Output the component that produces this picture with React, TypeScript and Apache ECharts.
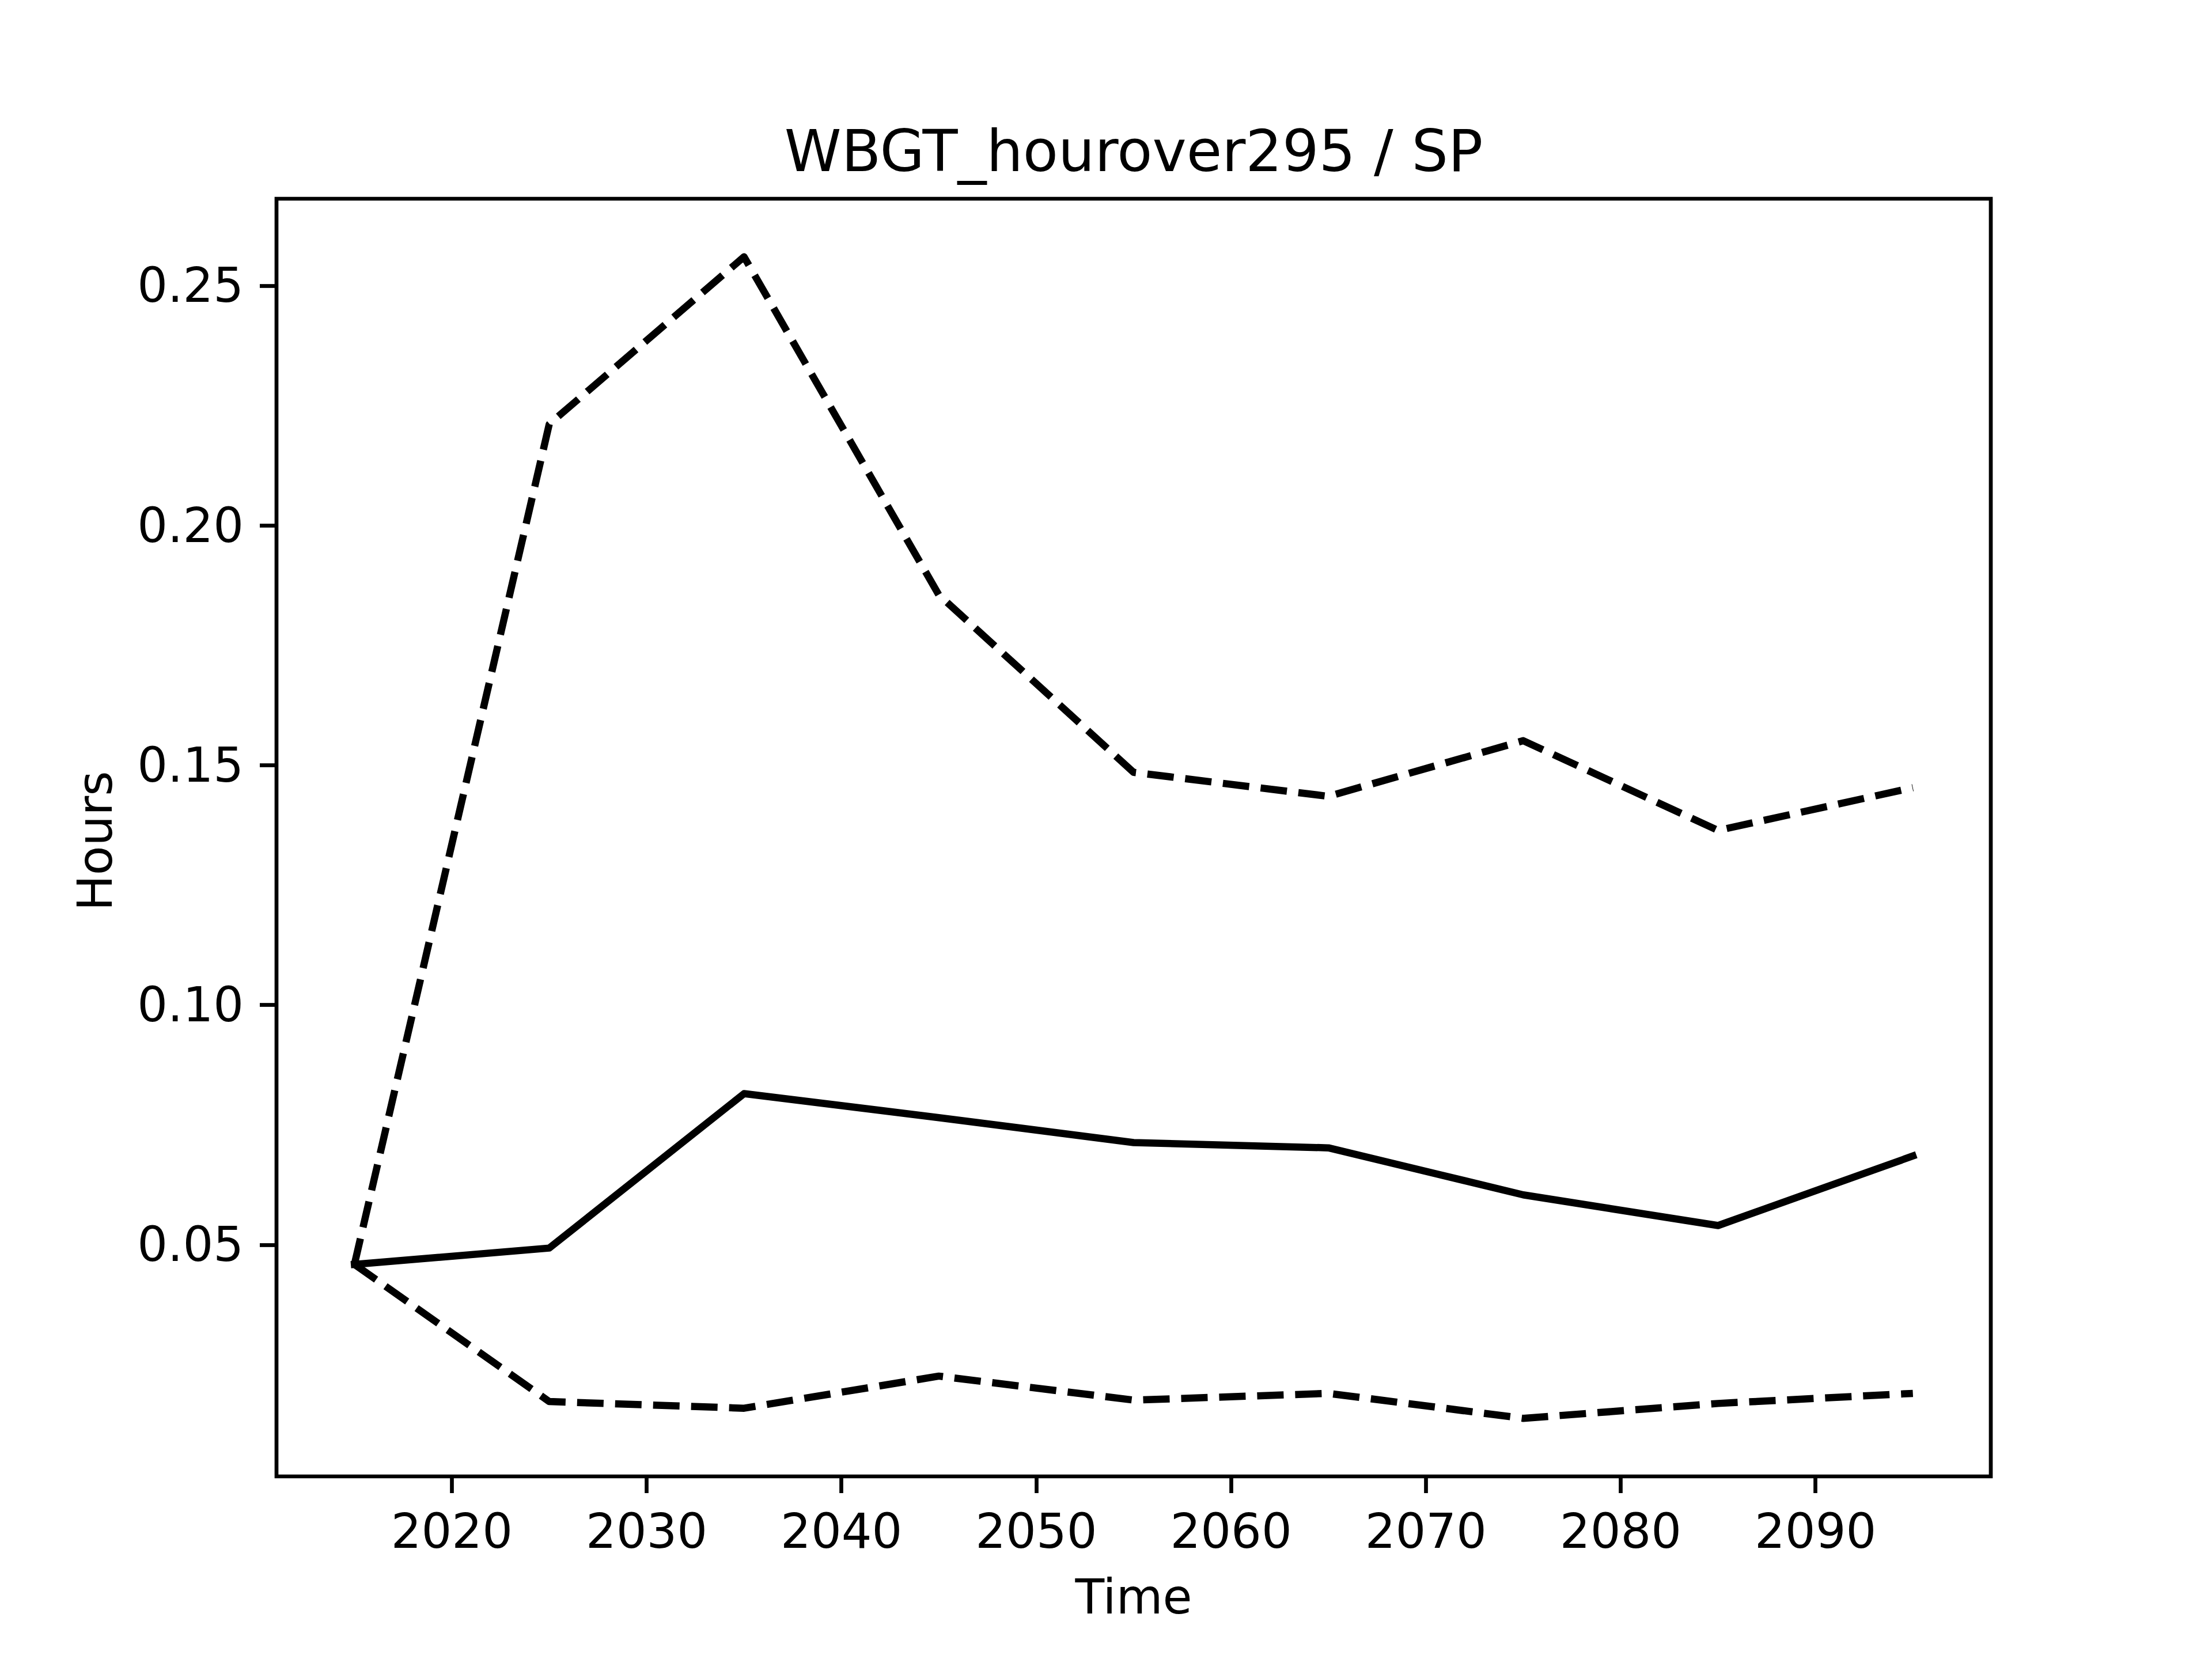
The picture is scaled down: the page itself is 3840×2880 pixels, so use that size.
import React, { useEffect, useRef } from "react";
import * as echarts from "echarts";

const years = [2015, 2025, 2035, 2045, 2055, 2065, 2075, 2085, 2095];
const meanValues = [0.0459, 0.0493, 0.0815, 0.0765, 0.0713, 0.0702, 0.0604, 0.054, 0.0685];
const upperValues = [0.0459, 0.2211, 0.256, 0.1855, 0.1485, 0.1435, 0.1551, 0.1364, 0.1453];
const lowerValues = [0.0459, 0.0173, 0.0159, 0.0226, 0.0176, 0.019, 0.0138, 0.0169, 0.019];
const xTicks = [2020, 2030, 2040, 2050, 2060, 2070, 2080, 2090];
const yTicks = [0.05, 0.1, 0.15, 0.2, 0.25];
const titleText = "WBGT_hourover295 / SP";
const xName = "Time";
const yName = "Hours";

const FONT = "'DejaVu Sans', sans-serif";

export default function App() {
  const ref = useRef<HTMLDivElement>(null);
  useEffect(() => {
    if (!ref.current) return;
    const chart = echarts.init(ref.current, undefined, { renderer: "svg" });
    const allVals = [...meanValues, ...upperValues, ...lowerValues];
    const vMin = Math.min(...allVals);
    const vMax = Math.max(...allVals);
    const vPad = (vMax - vMin) * 0.05;
    const xPad = (years[years.length - 1] - years[0]) * 0.05;
    const pair = (vals: number[]) => years.map((y, i) => [y, vals[i]]);
    const lineBase = { type: "line", showSymbol: false, symbol: "none", animation: false, silent: true };
    chart.setOption({
      animation: false,
      backgroundColor: "#ffffff",
      grid: {
        left: 480,
        right: 384,
        top: 345,
        bottom: 317,
        show: true,
        borderColor: "#000",
        borderWidth: 6.7,
        backgroundColor: "transparent",
        containLabel: false,
      },
      xAxis: {
        type: "value",
        min: years[0] - xPad,
        max: years[years.length - 1] + xPad,
        axisLine: { show: false },
        splitLine: { show: false },
        axisTick: {
          show: true,
          inside: false,
          length: 29,
          lineStyle: { color: "#000", width: 6.7 },
          customValues: xTicks,
        },
        axisLabel: {
          show: true,
          margin: 54,
          fontSize: 83,
          lineHeight: 83,
          color: "#000",
          fontFamily: FONT,
          customValues: xTicks,
          formatter: (v: number) => String(Math.round(v)),
        },
      },
      yAxis: {
        type: "value",
        min: vMin - vPad,
        max: vMax + vPad,
        axisLine: { show: false },
        splitLine: { show: false },
        axisTick: {
          show: true,
          inside: false,
          length: 29,
          lineStyle: { color: "#000", width: 6.7 },
          customValues: yTicks,
        },
        axisLabel: {
          show: true,
          margin: 57,
          fontSize: 83,
          lineHeight: 83,
          color: "#000",
          fontFamily: FONT,
          customValues: yTicks,
          formatter: (v: number) => v.toFixed(2),
        },
      },
      graphic: [
        {
          type: "text",
          x: 1968,
          y: 262,
          style: { text: titleText, fontSize: 100, fontFamily: FONT, fill: "#000", align: "center", verticalAlign: "middle" },
        },
        {
          type: "text",
          x: 1968,
          y: 2772,
          style: { text: xName, fontSize: 83, fontFamily: FONT, fill: "#000", align: "center", verticalAlign: "middle" },
        },
        {
          type: "text",
          x: 165,
          y: 1460,
          rotation: Math.PI / 2,
          style: { text: yName, fontSize: 83, fontFamily: FONT, fill: "#000", align: "center", verticalAlign: "middle" },
        },
      ],
      series: [
        {
          ...lineBase,
          name: "mean",
          data: pair(meanValues),
          lineStyle: { color: "#000", width: 12.5, type: "solid", cap: "square", join: "round" },
        },
        {
          ...lineBase,
          name: "upper",
          data: pair(upperValues),
          lineStyle: { color: "#000", width: 12.5, type: [46, 20], cap: "butt", join: "round" },
        },
        {
          ...lineBase,
          name: "lower",
          data: pair(lowerValues),
          lineStyle: { color: "#000", width: 12.5, type: [46, 20], cap: "butt", join: "round" },
        },
      ],
    });
    return () => chart.dispose();
  }, []);
  return (
    <div
      ref={ref}
      style={{ position: "absolute", left: 0, top: 0, width: 3840, height: 2880, background: "#fff" }}
    />
  );
}
